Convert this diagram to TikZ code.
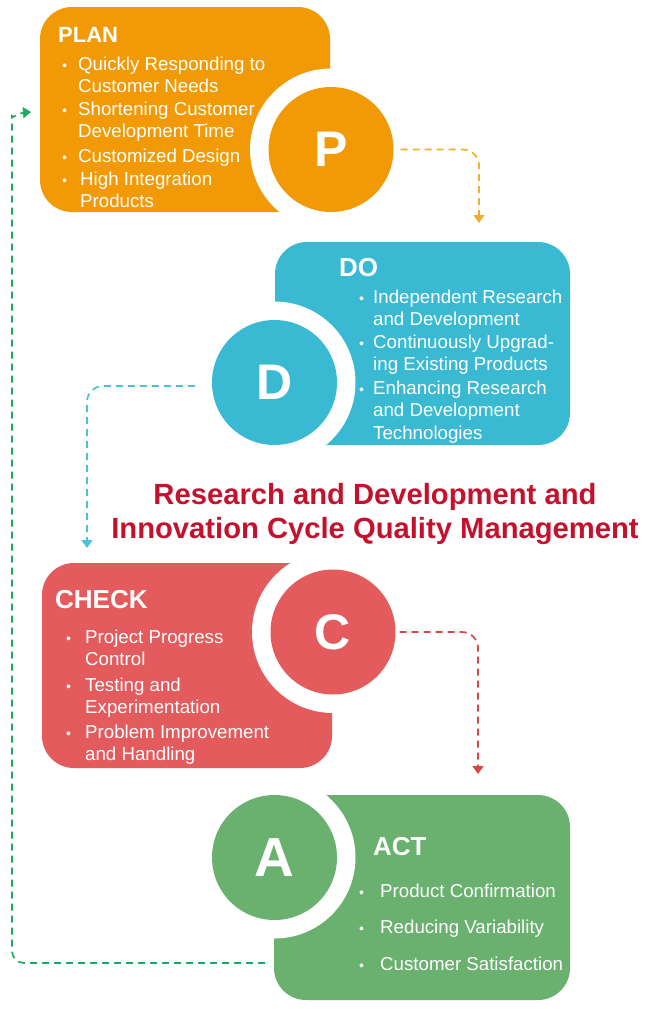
\documentclass[tikz,border=0pt]{standalone}
\usepackage{fontspec}
\setmainfont{Liberation Sans}
\usetikzlibrary{arrows.meta}
\definecolor{cP}{HTML}{F29A05}
\definecolor{cD}{HTML}{3ABAD2}
\definecolor{cC}{HTML}{E35B5D}
\definecolor{cA}{HTML}{6AB06F}
\definecolor{aP}{HTML}{F2AE2E}
\definecolor{aD}{HTML}{4CC2D8}
\definecolor{aC}{HTML}{D9474A}
\definecolor{aA}{HTML}{1EAA62}
\definecolor{cT}{HTML}{C4122E}
\begin{document}
\begin{tikzpicture}[x=1pt,y=-1pt,
  blk/.style={rectangle, rounded corners=32pt, inner sep=0pt, draw=none},
  ring/.style={circle, fill=white, minimum size=162pt, inner sep=0pt},
  letter/.style={circle, minimum size=125pt, inner sep=0pt, text=white, font=\fontsize{50}{50}\bfseries\selectfont},
  head/.style={anchor=base west, inner sep=0pt, text=white, font=\fontsize{26}{30}\bfseries\selectfont},
  txt/.style={anchor=north west, inner sep=0pt, text=white, align=left, font=\fontsize{18.7}{22.6}\selectfont},
  bul/.style={anchor=base west, inner sep=0pt, text=white, font=\fontsize{14}{22.6}\selectfont},
  flow/.style={line width=1.7pt, dash pattern=on 7pt off 5pt, -{Triangle[length=8pt,width=11pt]}}
]
\useasboundingbox (0,0) rectangle (655,1009);

% ---------- PLAN ----------
\node[blk, fill=cP, minimum width=290pt, minimum height=205pt] (planbox) at (185,109.5) {};
\node[ring] (Pring) at (331,149.5) {};
\node[letter, fill=cP] (P) at (331,149.5) {P};
\node[head, font=\fontsize{22}{26}\bfseries\selectfont] (planhead) at (58,42) {PLAN};
\node[bul] (pb1) at (62,70) {\textbullet};
\node[txt] (pt1) at (78,54.2) {\strut Quickly Responding to\\Customer Needs};
\node[bul] (pb2) at (62,115) {\textbullet};
\node[txt] (pt2) at (78,99.2) {\strut Shortening Customer\\Development Time};
\node[bul] (pb3) at (62,162) {\textbullet};
\node[txt] (pt3) at (78,146.2) {\strut Customized Design};
\node[bul] (pb4) at (62,185) {\textbullet};
\node[txt] (pt4) at (80,169.2) {\strut High Integration\\Products};

% ---------- DO ----------
\node[blk, fill=cD, minimum width=295pt, minimum height=203pt] (dobox) at (422.5,343.5) {};
\node[ring] (Dring) at (274.5,382.5) {};
\node[letter, fill=cD] (D) at (274.5,382.5) {D};
\node[head] (dohead) at (339,276) {DO};
\node[bul] (db1) at (359,303) {\textbullet};
\node[txt] (dt1) at (373,287.2) {\strut Independent Research\\and Development};
\node[bul] (db2) at (359,348) {\textbullet};
\node[txt] (dt2) at (373,332.2) {\strut Continuously Upgrad-\\ing Existing Products};
\node[bul] (db3) at (359,394) {\textbullet};
\node[txt] (dt3) at (373,378.2) {\strut Enhancing Research\\and Development\\Technologies};

% ---------- title ----------
\node[anchor=north, inner sep=0pt, align=center, text=cT, font=\fontsize{29.2}{34}\bfseries\selectfont] (title) at (375,480.2)
  {\strut Research and Development and\\Innovation Cycle Quality Management};

% ---------- CHECK ----------
\node[blk, fill=cC, minimum width=290pt, minimum height=205pt] (checkbox) at (187,665.5) {};
\node[ring] (Cring) at (333,632) {};
\node[letter, fill=cC] (C) at (333,632) {C};
\node[head] (checkhead) at (55,608) {CHECK};
\node[bul] (cb1) at (66,643) {\textbullet};
\node[txt] (ct1) at (85,627.2) {\strut Project Progress\\Control};
\node[bul] (cb2) at (66,691) {\textbullet};
\node[txt] (ct2) at (85,675.2) {\strut Testing and\\Experimentation};
\node[bul] (cb3) at (66,738) {\textbullet};
\node[txt] (ct3) at (85,722.2) {\strut Problem Improvement\\and Handling};

% ---------- ACT ----------
\node[blk, fill=cA, minimum width=296pt, minimum height=205pt] (actbox) at (422,897.5) {};
\node[ring] (Aring) at (274.5,857.5) {};
\node[letter, fill=cA, font=\fontsize{55}{55}\bfseries\selectfont] (A) at (274.5,857.5) {A};
\node[head] (acthead) at (373,855) {ACT};
\node[bul] (ab1) at (359,897) {\textbullet};
\node[txt] (at1) at (380,881.2) {\strut Product Confirmation};
\node[bul] (ab2) at (359,933) {\textbullet};
\node[txt] (at2) at (380,917.2) {\strut Reducing Variability};
\node[bul] (ab3) at (359,970) {\textbullet};
\node[txt] (at3) at (380,954.2) {\strut Customer Satisfaction};

% ---------- connectors ----------
\coordinate (pend) at (479,223);
\coordinate (dend) at (87,548);
\coordinate (cend) at (478,774);
\coordinate (astart) at (265,963);
\coordinate (gcorner) at (12,963);
\coordinate (gup) at (12,128);
\coordinate (pentry) at (31,112);

\draw[flow, aP, rounded corners=16pt] ([xshift=7pt]P.east) -| (pend);
\draw[flow, aD, rounded corners=16pt] ([shift={(-17,3.5)}]D.west) -| (dend);
\draw[flow, aC, rounded corners=16pt] ([xshift=4pt]C.east) -| (cend);
\draw[flow, aA, rounded corners=12pt] (astart) -- (gcorner) -- (gup)
  [sharp corners] .. controls (12,119) and (19,113) .. (pentry);
\end{tikzpicture}
\end{document}
